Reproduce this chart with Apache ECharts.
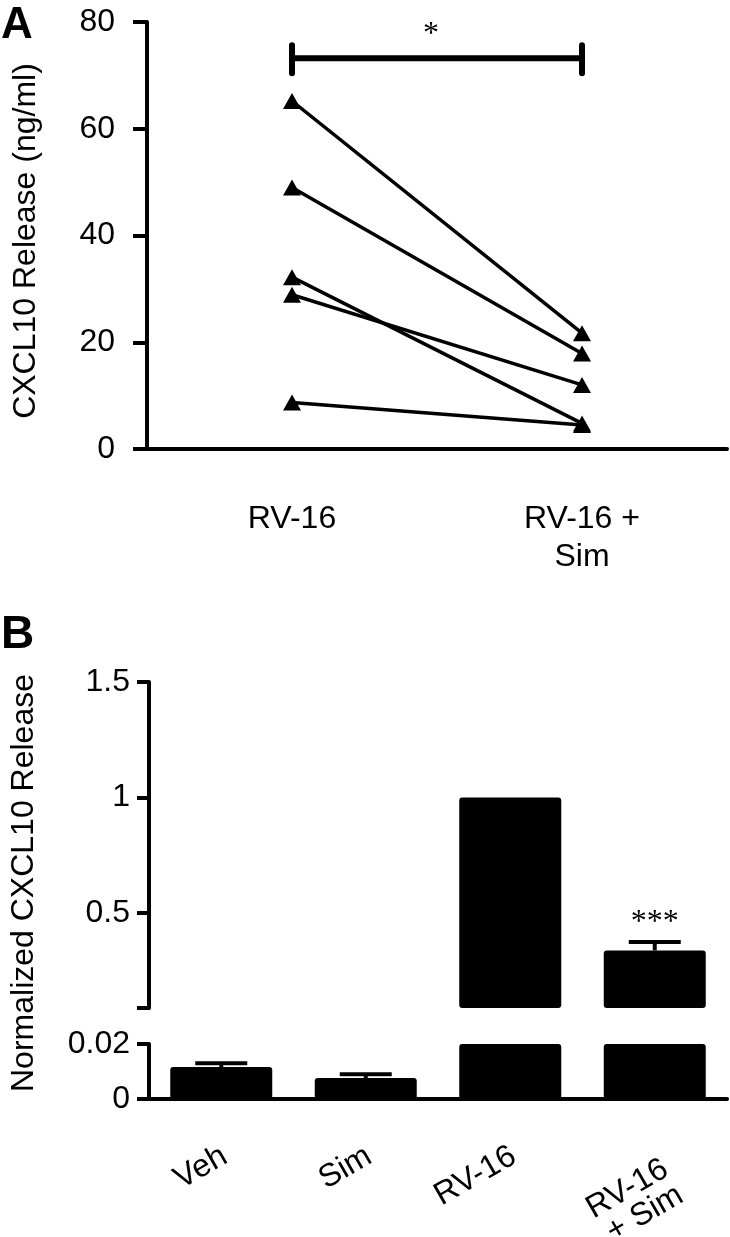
<!DOCTYPE html>
<html><head><meta charset="utf-8">
<script src="https://cdn.jsdelivr.net/npm/echarts@6/dist/echarts.min.js"></script>
<style>html,body{margin:0;padding:0;background:#fff}#c{width:730px;height:1237px}</style>
</head><body><div id="c"></div>
<script>
// ---- Panel A data ----
const catsA = ['RV-16', 'RV-16 +\nSim'];
const rv16 = [65.2, 49.0, 32.2, 28.9, 8.7];
const rv16Sim = [21.7, 17.9, 4.8, 12.0, 4.5];
const ticksA = [0, 20, 40, 60, 80];
const sigLevelA = 73.2;
const sigTextA = '*';
// ---- Panel B data ----
const catsB = ['Veh', 'Sim', 'RV-16', 'RV-16\n+ Sim'];
const meanB = [0.0116, 0.0076, 1.0, 0.339];
const semB = [0.0014, 0.0014, 0, 0.036];
const upperTicksB = [0.5, 1, 1.5];
const lowerTicksB = [0, 0.02];
const sigTextB = ['', '', '', '***'];

const FONT = '"Liberation Sans", Arial, sans-serif';
const BLACK = '#000';
const upperMin = 0.09, upperMax = 1.5;

const axisLineStyle = { lineStyle: { color: BLACK, width: 4 } };

const lineSeries = rv16.map((v, i) => ({
  type: 'line', xAxisIndex: 0, yAxisIndex: 0,
  data: [v, rv16Sim[i]],
  symbol: 'triangle', symbolSize: [18, 16],
  lineStyle: { color: BLACK, width: 3.5 },
  itemStyle: { color: BLACK },
  animation: false, z: 3
}));

const bracketSeries = {
  type: 'custom', xAxisIndex: 0, yAxisIndex: 0,
  data: [[0, sigLevelA]],
  renderItem: function (params, api) {
    const p0 = api.coord([0, api.value(1)]);
    const p1 = api.coord([1, api.value(1)]);
    const st = { stroke: BLACK, lineWidth: 6, lineCap: 'round' };
    return { type: 'group', children: [
      { type: 'line', shape: { x1: p0[0], y1: p0[1], x2: p1[0], y2: p1[1] }, style: st },
      { type: 'line', shape: { x1: p0[0], y1: p0[1] - 13, x2: p0[0], y2: p0[1] + 15 }, style: st },
      { type: 'line', shape: { x1: p1[0], y1: p1[1] - 13, x2: p1[0], y2: p1[1] + 15 }, style: st },
      { type: 'text', x: (p0[0] + p1[0]) / 2 - 6, y: p0[1] - 24,
        style: { text: sigTextA, fill: BLACK, font: '32px "Liberation Serif", serif', align: 'center', verticalAlign: 'middle' } }
    ]};
  },
  animation: false, z: 2
};

function errSeries(xi, yi, inRange, withSig) {
  return {
    type: 'custom', xAxisIndex: xi, yAxisIndex: yi,
    data: catsB.map((c, i) => [i, meanB[i], semB[i]]),
    renderItem: function (params, api) {
      const i = api.value(0), m = api.value(1), s = api.value(2);
      if (!inRange(m, s)) return null;
      const children = [];
      const pb = api.coord([i, m]);
      const pt = api.coord([i, m + s]);
      const st = { stroke: BLACK, lineWidth: 4 };
      if (s > 0) {
        children.push({ type: 'line', shape: { x1: pb[0], y1: pb[1], x2: pt[0], y2: pt[1] }, style: st });
        children.push({ type: 'line', shape: { x1: pt[0] - 26, y1: pt[1], x2: pt[0] + 26, y2: pt[1] }, style: st });
      }
      if (withSig && sigTextB[i]) {
        children.push({ type: 'text', x: pt[0], y: pt[1] - 20,
          style: { text: sigTextB[i], fill: BLACK, font: '32px "Liberation Serif", serif', align: 'center', verticalAlign: 'middle' } });
      }
      return { type: 'group', children: children };
    },
    animation: false, z: 4
  };
}

const barCommon = {
  type: 'bar', barWidth: 102, data: meanB,
  itemStyle: { color: BLACK, borderRadius: 3 },
  clip: true, animation: false
};

const chart = echarts.init(document.getElementById('c'), null, { renderer: 'canvas' });
chart.setOption({
  backgroundColor: '#fff',
  animation: false,
  textStyle: { fontFamily: FONT, color: BLACK },
  grid: [
    { left: 147, right: 3, top: 22, height: 427, outerBoundsMode: 'none', containLabel: false },
    { left: 149, right: 3, top: 682, height: 326, outerBoundsMode: 'none', containLabel: false },
    { left: 149, right: 3, top: 1044, height: 55, outerBoundsMode: 'none', containLabel: false }
  ],
  xAxis: [
    { gridIndex: 0, type: 'category', data: catsA,
      axisLine: axisLineStyle,
      axisTick: { alignWithLabel: true, length: 14, lineStyle: { color: BLACK, width: 4 } },
      axisLabel: { fontSize: 32, color: BLACK, fontFamily: FONT, margin: 51, lineHeight: 38 } },
    { gridIndex: 1, type: 'category', data: catsB, show: false },
    { gridIndex: 2, type: 'category',
      data: catsB.map((c, i) => i === catsB.length - 1
        ? { value: c, textStyle: { verticalAlign: 'top', lineHeight: 30 } } : c),
      axisLine: axisLineStyle,
      axisTick: { alignWithLabel: true, length: 18, lineStyle: { color: BLACK, width: 4 } },
      axisLabel: { fontSize: 32, color: BLACK, fontFamily: FONT, margin: 57, rotate: 30, lineHeight: 35,
                   padding: [0, -4, 0, 0], hideOverlap: false } }
  ],
  yAxis: [
    { gridIndex: 0, type: 'value', min: ticksA[0], max: ticksA[ticksA.length - 1], interval: ticksA[1] - ticksA[0],
      splitLine: { show: false },
      axisLine: { show: true, lineStyle: { color: BLACK, width: 4 } },
      axisTick: { show: true, length: 14, lineStyle: { color: BLACK, width: 4 } },
      axisLabel: { fontSize: 32, color: BLACK, fontFamily: FONT, margin: 32 } },
    { gridIndex: 1, type: 'value', min: upperMin, max: upperMax,
      splitLine: { show: false },
      axisLine: { show: true, lineStyle: { color: BLACK, width: 4 } },
      axisTick: { show: true, length: 12, lineStyle: { color: BLACK, width: 4 }, customValues: [upperMin].concat(upperTicksB) },
      axisLabel: { fontSize: 32, color: BLACK, fontFamily: FONT, margin: 19, customValues: upperTicksB } },
    { gridIndex: 2, type: 'value', min: lowerTicksB[0], max: lowerTicksB[lowerTicksB.length - 1],
      interval: lowerTicksB[1] - lowerTicksB[0],
      splitLine: { show: false },
      axisLine: { show: true, lineStyle: { color: BLACK, width: 4 } },
      axisTick: { show: true, length: 12, lineStyle: { color: BLACK, width: 4 } },
      axisLabel: { fontSize: 32, color: BLACK, fontFamily: FONT, margin: 19, showMinLabel: true, showMaxLabel: true } }
  ],
  graphic: [
    { type: 'text', left: 1, top: 4, style: { text: 'A', font: 'bold 44px ' + FONT, fill: BLACK } },
    { type: 'text', left: 1, top: 612, style: { text: 'B', font: 'bold 46px ' + FONT, fill: BLACK } },
    { type: 'text', x: 26, y: 241, rotation: Math.PI / 2,
      style: { text: 'CXCL10 Release (ng/ml)', font: '32px ' + FONT, fill: BLACK, align: 'center', verticalAlign: 'middle' } },
    { type: 'text', x: 24, y: 883, rotation: Math.PI / 2,
      style: { text: 'Normalized CXCL10 Release', font: '32px ' + FONT, fill: BLACK, align: 'center', verticalAlign: 'middle' } }
  ],
  series: lineSeries.concat([
    bracketSeries,
    Object.assign({}, barCommon, { xAxisIndex: 1, yAxisIndex: 1 }),
    Object.assign({}, barCommon, { xAxisIndex: 2, yAxisIndex: 2 }),
    errSeries(1, 1, (m, s) => m >= upperMin && m <= upperMax, true),
    errSeries(2, 2, (m, s) => m + s <= lowerTicksB[1], false)
  ])
});
</script></body></html>
